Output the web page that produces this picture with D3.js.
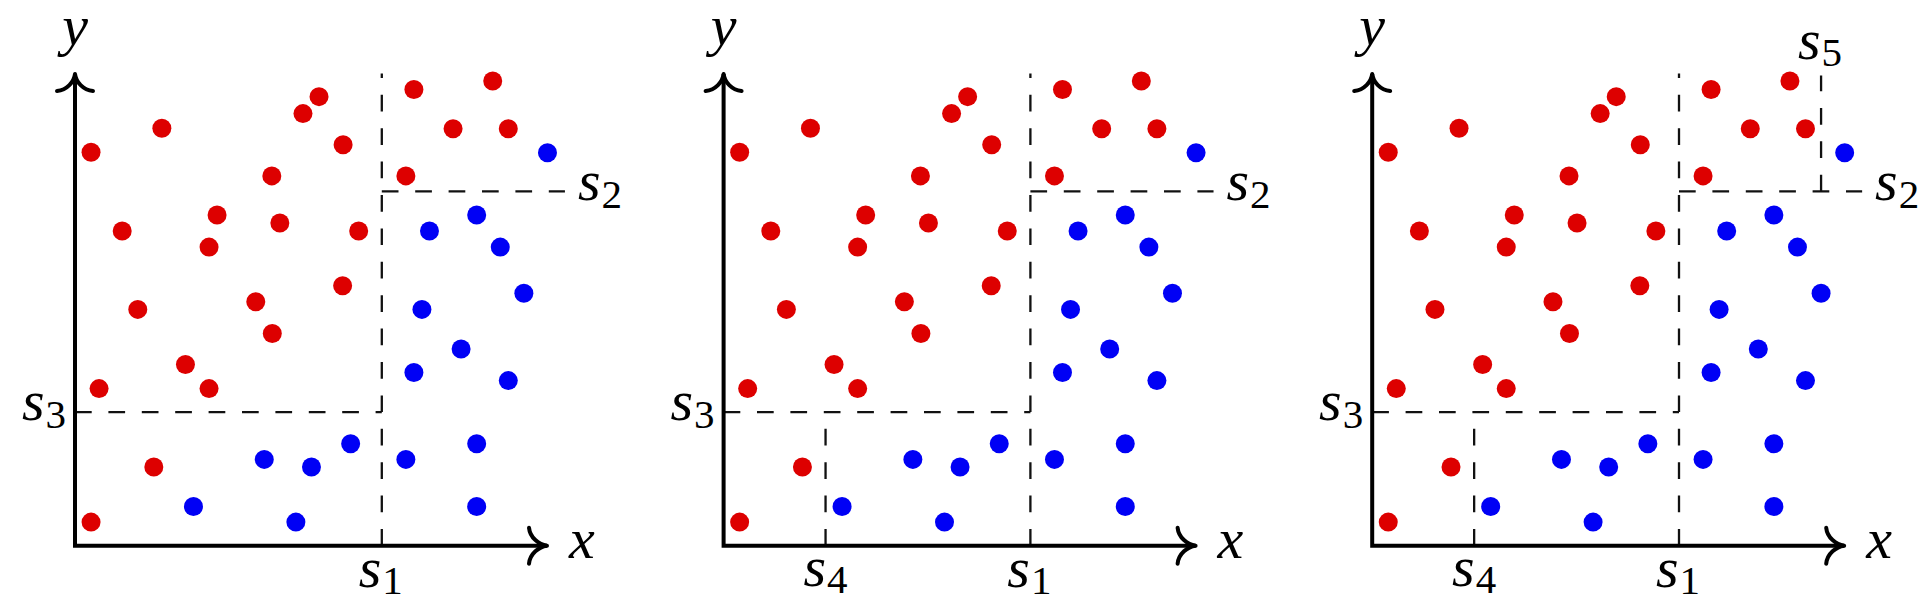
<!DOCTYPE html>
<html>
<head>
<meta charset="utf-8">
<script src="https://cdn.jsdelivr.net/npm/d3@7"></script>
<style>
  html, body { margin: 0; padding: 0; background: #fff; }
  svg { display: block; }
</style>
</head>
<body>
<div class="canvas"></div>
<script>
// dots (same cloud in every panel)
const redX  = [0.34, 1.84, 4.83, 5.17, 4.17, 1.00, 3.01, 2.84, 4.34, 1.33, 3.83, 5.68, 7.18,
               8.85, 8.01, 9.18, 7.01, 6.01, 5.67, 4.18, 2.34, 0.51, 2.84, 1.67, 0.34];
const redY  = [8.34, 8.85, 9.16, 9.52, 7.84, 6.67, 7.01, 6.33, 6.84, 5.01, 5.17, 8.50, 9.67,
               9.85, 8.84, 8.84, 7.84, 6.67, 5.51, 4.50, 3.84, 3.33, 3.33, 1.67, 0.50];
const blueX = [10.01, 7.51, 8.51, 9.01, 9.51, 7.35, 8.18, 7.18, 9.18, 5.84, 5.01, 7.01, 8.51,
               8.51, 4.01, 2.51, 4.68];
const blueY = [8.33, 6.67, 7.01, 6.33, 5.35, 5.01, 4.17, 3.67, 3.50, 2.16, 1.67, 1.83, 2.16,
               0.83, 1.83, 0.83, 0.50];

// split thresholds
const splitNames  = ['s1', 's2', 's3', 's4', 's5'];
const splitValues = [6.50, 7.51, 2.83, 2.16, 9.51];
const panelSplits = [['s1', 's2', 's3'], ['s1', 's2', 's3', 's4'], ['s1', 's2', 's3', 's4', 's5']];

const axisMax = 10;

const width = 1927, height = 612;
const originY = 545.7;
const panelLeft = [75, 723.6, 1372.2];
const red = '#dd0000', blue = '#0000f5';
const fontFamily = '"Liberation Serif", "Times New Roman", serif';
const fontSize = 58, subSize = 41;

const x = d3.scaleLinear().domain([0, axisMax]).range([0, 472]);
const y = d3.scaleLinear().domain([0, axisMax]).range([0, -471.7]);

const sv = name => splitValues[splitNames.indexOf(name)];

const svg = d3.select('.canvas')
  .append('svg')
  .attr('width', width)
  .attr('height', height);

const points = redX.map((d, i) => ({x: d, y: redY[i], c: red}))
  .concat(blueX.map((d, i) => ({x: d, y: blueY[i], c: blue})));

const line = d3.line().x(d => x(d[0])).y(d => y(d[1]));

// label with a subscript
function subLabel(g, px, py, anchor, base, sub) {
  const t = g.append('text')
    .attr('x', px)
    .attr('y', py)
    .attr('text-anchor', anchor)
    .attr('font-family', fontFamily)
    .attr('font-size', fontSize);
  t.append('tspan').attr('font-style', 'italic').text(base);
  t.append('tspan').attr('dx', 1).attr('dy', 7.5).attr('font-size', subSize).text(sub);
  return t;
}

panelSplits.forEach((splits, p) => {
  const g = svg.append('g')
    .attr('transform', `translate(${panelLeft[p]}, ${originY})`);

  // dashed split lines
  const segs = [];
  const labs = [];
  splits.forEach(s => {
    const v = sv(s);
    if (s === 's1') {
      segs.push([[v, 0], [v, 10.01]]);
      labs.push({s: s, px: x(v) - 1, py: 41.3, a: 'middle'});
    }
    if (s === 's2') {
      segs.push([[sv('s1'), v], [10.38, v]]);
      labs.push({s: s, px: x(10.38) + 13, py: y(v) + 8.7, a: 'start'});
    }
    if (s === 's3') {
      segs.push([[0, v], [sv('s1'), v]]);
      labs.push({s: s, px: -9, py: y(v) + 8, a: 'end'});
    }
    if (s === 's4') {
      segs.push([[v, 0], [v, sv('s3')]]);
      labs.push({s: s, px: x(v), py: 40.3, a: 'middle'});
    }
    if (s === 's5') {
      segs.push([[v, sv('s2')], [v, 9.97]]);
      labs.push({s: s, px: x(v) - 1, py: y(9.97) - 16.7, a: 'middle'});
    }
  });

  g.selectAll('path.split')
    .data(segs)
    .enter()
    .append('path')
    .attr('class', 'split')
    .attr('d', line)
    .attr('fill', 'none')
    .attr('stroke', '#111')
    .attr('stroke-width', 2.3)
    .attr('stroke-dasharray', '16.7 16.7');

  labs.forEach(l => subLabel(g, l.px, l.py, l.a, 's', l.s.slice(1)));

  // dots
  g.selectAll('circle')
    .data(points)
    .enter()
    .append('circle')
    .attr('cx', d => x(d.x))
    .attr('cy', d => y(d.y))
    .attr('r', 9.5)
    .attr('fill', d => d.c);

  // axes
  g.append('path')
    .attr('d', line([[0, axisMax], [0, 0], [axisMax, 0]]))
    .attr('fill', 'none')
    .attr('stroke', '#000')
    .attr('stroke-width', 4)
    .attr('stroke-linejoin', 'miter');

  // arrow heads
  g.append('path')
    .attr('transform', `translate(${x(axisMax)}, 0)`)
    .attr('d', 'M -18,-18 C -17,-8 -8,-1 0,0 C -8,1 -17,8 -18,18')
    .attr('fill', 'none')
    .attr('stroke', '#000')
    .attr('stroke-width', 4)
    .attr('stroke-linecap', 'round')
    .attr('stroke-linejoin', 'round');

  g.append('path')
    .attr('transform', `translate(0, ${y(axisMax)})`)
    .attr('d', 'M -18,17 C -8,16 -1,8 0,0 C 1,8 8,16 18,17')
    .attr('fill', 'none')
    .attr('stroke', '#000')
    .attr('stroke-width', 4)
    .attr('stroke-linecap', 'round')
    .attr('stroke-linejoin', 'round');

  // axis names
  g.append('text')
    .attr('x', x(axisMax) + 22)
    .attr('y', 12.6)
    .attr('font-family', fontFamily)
    .attr('font-size', fontSize)
    .attr('font-style', 'italic')
    .text('x');

  g.append('text')
    .attr('x', 0)
    .attr('y', y(axisMax) - 29)
    .attr('text-anchor', 'middle')
    .attr('font-family', fontFamily)
    .attr('font-size', fontSize)
    .attr('font-style', 'italic')
    .text('y');
});
</script>
</body>
</html>
